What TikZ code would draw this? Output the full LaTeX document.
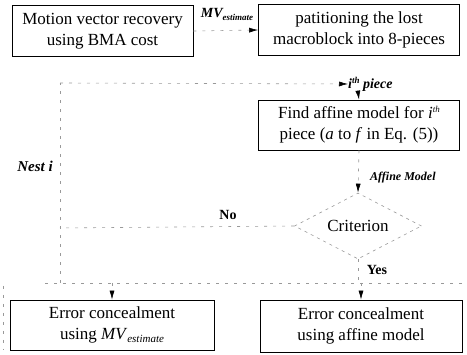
\documentclass[tikz,border=0pt]{standalone}
\usepackage{fontspec}
\setmainfont{Liberation Serif}
\usetikzlibrary{arrows.meta,shapes.geometric}
\begin{document}
\begin{tikzpicture}[x=1pt,y=-1pt,
 box/.style={draw,line width=0.8pt,inner sep=0pt,align=center,font=\fontsize{17}{21}\selectfont},
 conn/.style={draw=gray!80,line width=0.6pt,dash pattern=on 3pt off 6pt},
 arr/.style={conn,-{Latex[length=9pt,width=5pt,black]}},
 lbl/.style={font=\fontsize{14}{16}\selectfont\bfseries\itshape,inner sep=0pt},
 yn/.style={font=\fontsize{14}{16}\selectfont\bfseries,inner sep=0pt}]
\useasboundingbox (0,0) rectangle (467,355);
% boxes
\node[box,minimum width=181pt,minimum height=51pt] (b1) at (102.5,31) {Motion vector recovery\\using BMA cost};
\node[box,minimum width=201pt,minimum height=51pt] (b2) at (359,30) {patitioning the lost\\macroblock into 8-pieces};
\node[box,minimum width=201pt,minimum height=50pt] (b3) at (359,125) {Find affine model for \textit{i}\raisebox{6pt}{\fontsize{9}{9}\selectfont\itshape th}\\piece (\textit{a} to \textit{f} in Eq. (5))};
\node[draw=gray!80,dash pattern=on 3pt off 4pt,line width=0.6pt,diamond,aspect=1.92,minimum width=127pt,minimum height=66pt,inner sep=0pt,font=\fontsize{17}{21}\selectfont] (d) at (358,226) {Criterion};
\node[box,minimum width=204pt,minimum height=50pt] (b4) at (112,325) {Error concealment\\using \textit{MV}\raisebox{-3pt}{\fontsize{11}{11}\selectfont\itshape estimate}};
\node[box,minimum width=202pt,minimum height=52pt] (b5) at (361,326) {Error concealment\\using affine model};
% labels
\node[lbl,anchor=south] (mv) at (227,21) {\textit{MV}\raisebox{-3pt}{\fontsize{9}{9}\selectfont\bfseries\itshape estimate}};
\node[lbl,anchor=west] (ip) at (348,84) {\textit{i}\raisebox{5pt}{\fontsize{9}{9}\selectfont\bfseries\itshape th} piece};
\node[lbl,font=\fontsize{15}{17}\selectfont\bfseries\itshape] (nest) at (35,166) {Nest i};
\node[lbl,anchor=west,font=\fontsize{12}{14}\selectfont\bfseries\itshape] (am) at (370,178) {Affine Model};
\node[yn] (no) at (228,215) {No};
\node[yn] (yes) at (377,270) {Yes};
% coordinates
\coordinate (lt) at (60,83);
\coordinate (lb) at (60,283);
\coordinate (ln) at (60,228);
\coordinate (ys) at (358,283);
\coordinate (hl) at (45,283);
\coordinate (hr) at (466,283);
\coordinate (al) at (112,283);
\coordinate (ar) at (361,283);
\coordinate (ipb) at (358,92);
\coordinate (fl1) at (3,286);
\coordinate (fl2) at (3,350);
% connectors
\draw[arr] (b1.east) -- (b2.west);
\draw[conn] (lb) -- (lt);
\draw[arr] (lt) -- (ip.west);
\draw[arr] (ipb) -- (b3.north);
\draw[arr] (b3.south) -- (d.north);
\draw[conn] (d.west) -- (ln);
\draw[conn] (d.south) -- (ys);
\draw[conn] (hl) -- (hr);
\draw[arr] (al) -- (b4.north);
\draw[arr] (ar) -- (b5.north);
\draw[conn] (fl1) -- (fl2);
\end{tikzpicture}
\end{document}
